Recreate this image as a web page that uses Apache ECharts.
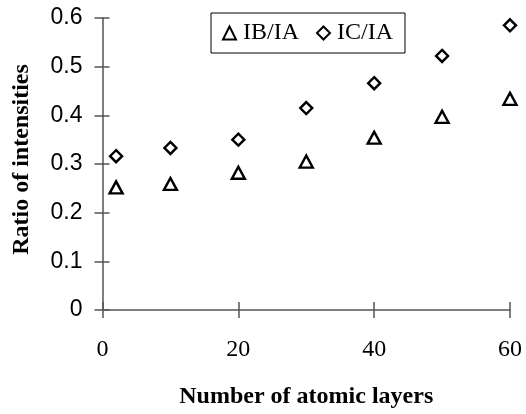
<!DOCTYPE html>
<html><head><meta charset="utf-8">
<script src="https://cdn.jsdelivr.net/npm/echarts@6/dist/echarts.min.js"></script>
<style>html,body{margin:0;padding:0;background:#fff}#c{width:526px;height:414px}</style>
</head><body><div id="c"></div>
<script>
const layers = [2, 10, 20, 30, 40, 50, 60];
const ibIa = [0.252, 0.259, 0.282, 0.305, 0.354, 0.397, 0.434];
const icIa = [0.316, 0.333, 0.350, 0.415, 0.466, 0.522, 0.585];
const seriesNames = ['IB/IA', 'IC/IA'];
const xTitle = 'Number of atomic layers';
const yTitle = 'Ratio of intensities';

const chart = echarts.init(document.getElementById('c'), null, {renderer: 'canvas'});
const lineCol = '#555';
const serif = '"Liberation Serif","Times New Roman",serif';
const sans = '"Liberation Sans",Arial,sans-serif';
const grid = {left: 102.5, right: 16, top: 18, bottom: 101.5};
const xBase = {type: 'value', min: 0, max: 60, interval: 20, gridIndex: 0, splitLine: {show: false}};
const yBase = {type: 'value', min: 0, max: 0.6, interval: 0.1, gridIndex: 0, splitLine: {show: false}};
chart.setOption({
  animation: false,
  grid: grid,
  legend: {
    left: 211, top: 13, padding: [8, 12, 8, 11], itemGap: 17,
    itemWidth: 13, itemHeight: 13,
    borderColor: '#000', borderWidth: 1, backgroundColor: '#fff',
    textStyle: {fontFamily: serif, fontSize: 24, color: '#000', padding: [0, 0, 0, 2]},
    data: seriesNames
  },
  xAxis: [
    Object.assign({}, xBase, {
      axisLine: {show: true, onZero: false, lineStyle: {color: lineCol, width: 1.5}},
      axisTick: {show: true, inside: false, length: 8, lineStyle: {color: lineCol, width: 1.5}},
      axisLabel: {fontFamily: serif, fontSize: 24, color: '#000', margin: 28},
      name: xTitle, nameLocation: 'middle', nameGap: 75,
      nameTextStyle: {fontFamily: serif, fontSize: 24, fontWeight: 'bold', color: '#000'}
    }),
    Object.assign({}, xBase, {
      position: 'bottom',
      axisLine: {show: false},
      axisTick: {show: true, inside: true, length: 8, lineStyle: {color: lineCol, width: 1.5}},
      axisLabel: {show: false}
    })
  ],
  yAxis: [
    Object.assign({}, yBase, {
      axisLine: {show: true, onZero: false, lineStyle: {color: lineCol, width: 1.5}},
      axisTick: {show: true, inside: false, length: 8, lineStyle: {color: lineCol, width: 1.5}},
      axisLabel: {fontFamily: sans, fontSize: 23, color: '#000', margin: 20},
      name: yTitle, nameLocation: 'middle', nameGap: 69,
      nameTextStyle: {fontFamily: serif, fontSize: 24, fontWeight: 'bold', color: '#000', padding: [0, 0, 0, 9]}
    }),
    Object.assign({}, yBase, {
      position: 'left',
      axisLine: {show: false},
      axisTick: {show: true, inside: true, length: 7, lineStyle: {color: lineCol, width: 1.5}},
      axisLabel: {show: false}
    })
  ],
  series: [
    {
      name: seriesNames[0], type: 'scatter', symbol: 'triangle', symbolSize: [13, 12],
      itemStyle: {color: '#fff', borderColor: '#000', borderWidth: 2.4, opacity: 1},
      data: layers.map((x, i) => [x, ibIa[i]])
    },
    {
      name: seriesNames[1], type: 'scatter', symbol: 'diamond', symbolSize: [12, 12],
      itemStyle: {color: '#fff', borderColor: '#000', borderWidth: 2.4, opacity: 1},
      data: layers.map((x, i) => [x, icIa[i]])
    }
  ]
});
</script></body></html>
